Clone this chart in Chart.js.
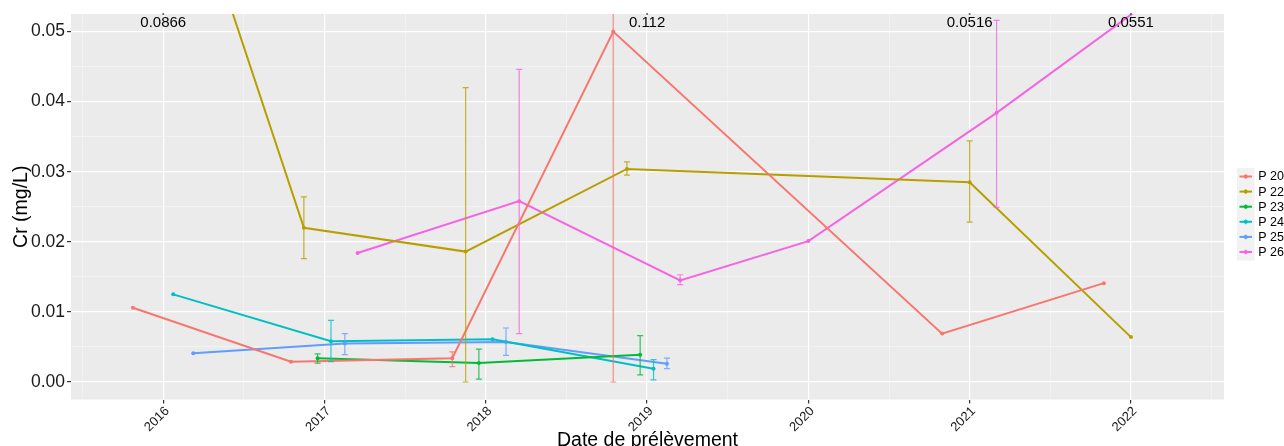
<!DOCTYPE html>
<html>
<head>
<meta charset="utf-8">
<script src="https://cdn.jsdelivr.net/npm/chart.js@4.4.1/dist/chart.umd.min.js"></script>
<style>
  html, body { margin: 0; padding: 0; background: #ffffff; }
  #wrap { width: 1284px; height: 446px; }
</style>
</head>
<body>
<div id="wrap"><canvas id="chart" width="1284" height="446"></canvas></div>
<script>
// Sampling points (decimal year), Cr concentration (mg/L) and error-bar bounds
const seriesNames = ['P 20', 'P 22', 'P 23', 'P 24', 'P 25', 'P 26'];

const p20Dates  = [2015.812, 2016.792, 2017.792, 2018.790, 2020.829, 2021.832];
const p20Values = [0.0106, 0.0029, 0.0034, 0.0500, 0.0069, 0.0141];
const p20Low    = [null, null, 0.0022, 0.0000, null, null];
const p20High   = [null, null, 0.0043, 0.112, null, null];

const p22Dates  = [2015.940, 2016.872, 2017.875, 2018.875, 2021.000, 2022.000];
const p22Values = [0.0866, 0.0220, 0.0186, 0.0304, 0.0285, 0.0064];
const p22Low    = [null, 0.0176, 0.0000, 0.0295, 0.0228, null];
const p22High   = [null, 0.0264, 0.0420, 0.0314, 0.0344, null];

const p23Dates  = [2016.957, 2017.957, 2018.957];
const p23Values = [0.0034, 0.0027, 0.0039];
const p23Low    = [0.0027, 0.0004, 0.0010];
const p23High   = [0.0040, 0.0047, 0.0066];

const p24Dates  = [2016.062, 2017.040, 2018.042, 2019.040];
const p24Values = [0.0125, 0.0058, 0.0061, 0.0019];
const p24Low    = [null, 0.0029, null, 0.0003];
const p24High   = [null, 0.0088, null, 0.0032];

const p25Dates  = [2016.186, 2017.126, 2018.125, 2019.123];
const p25Values = [0.0041, 0.0055, 0.0057, 0.0026];
const p25Low    = [null, 0.0039, 0.0038, 0.0019];
const p25High   = [null, 0.0069, 0.0077, 0.0034];

const p26Dates  = [2017.205, 2018.207, 2019.205, 2020.000, 2021.167, 2022.160];
const p26Values = [0.0184, 0.0258, 0.0145, 0.0201, 0.0384, 0.0551];
const p26Low    = [null, 0.0069, 0.0139, null, 0.0249, null];
const p26High   = [null, 0.0446, 0.0153, null, 0.0516, null];

// Values lying above the visible range, printed at the top of the panel
const offscaleYears  = [2016, 2019, 2021, 2022];
const offscaleValues = [0.0866, 0.112, 0.0516, 0.0551];

// Axis ticks
const xMajorTicks = [2016, 2017, 2018, 2019, 2020, 2021, 2022];
const yMajorTicks = [0.00, 0.01, 0.02, 0.03, 0.04, 0.05];

const palette = ['#F8766D', '#B79F00', '#00BA38', '#00BFC4', '#619CFF', '#F564E3'];

const series = [
  { dates: p20Dates, values: p20Values, low: p20Low, high: p20High },
  { dates: p22Dates, values: p22Values, low: p22Low, high: p22High },
  { dates: p23Dates, values: p23Values, low: p23Low, high: p23High },
  { dates: p24Dates, values: p24Values, low: p24Low, high: p24High },
  { dates: p25Dates, values: p25Values, low: p25Low, high: p25High },
  { dates: p26Dates, values: p26Values, low: p26Low, high: p26High }
];

// Major ticks plus a minor line halfway between them
function withMinors(majors, lo, hi) {
  const step = majors[1] - majors[0];
  const out = [];
  for (let i = -1; i < majors.length; i++) {
    const base = i < 0 ? majors[0] - step : majors[i];
    [base, base + step / 2].forEach(v => {
      if (v > lo && v < hi && !out.some(o => Math.abs(o - v) < step / 1000)) out.push(v);
    });
  }
  return out.sort((a, b) => a - b);
}

const X_MIN = 2015.428, X_MAX = 2022.577;
const Y_MIN = -0.0025, Y_MAX = 0.0525;
const xTicks = withMinors(xMajorTicks, X_MIN, X_MAX);
const yTicks = withMinors(yMajorTicks, Y_MIN, Y_MAX);

const isMajor = (list, v) => list.some(m => Math.abs(m - v) < 1e-9);

function hexAlpha(hex, a) {
  const n = parseInt(hex.slice(1), 16);
  return `rgba(${(n >> 16) & 255},${(n >> 8) & 255},${n & 255},${a})`;
}

const FONT = '"Liberation Sans", Arial, sans-serif';
Chart.defaults.font.family = FONT;

const datasets = series.map((s, k) => ({
  label: seriesNames[k],
  data: s.dates.map((d, i) => ({ x: d, y: s.values[i] })),
  borderColor: palette[k],
  backgroundColor: palette[k],
  pointBackgroundColor: palette[k],
  borderWidth: 2,
  pointRadius: 2,
  pointBorderWidth: 0,
  tension: 0
}));

const gridColor = (list) => (ctx) => {
  if (!ctx.tick) return 'rgba(0,0,0,0)';
  return isMajor(list, ctx.tick.value) ? '#FFFFFF' : '#F6F6F6';
};
const gridWidth = (list) => (ctx) => {
  if (!ctx.tick) return 0;
  return isMajor(list, ctx.tick.value) ? 1.2 : 0.6;
};
const tickColor = (list) => (ctx) => {
  if (!ctx.tick) return 'rgba(0,0,0,0)';
  return isMajor(list, ctx.tick.value) ? '#333333' : 'rgba(0,0,0,0)';
};

// Panel background, error bars, off-scale labels, titles and legend
const decorations = {
  id: 'decorations',
  beforeDraw(chart) {
    const { ctx, chartArea: a } = chart;
    ctx.save();
    ctx.fillStyle = '#FFFFFF';
    ctx.fillRect(0, 0, chart.width, chart.height);
    ctx.fillStyle = '#EBEBEB';
    ctx.fillRect(a.left, a.top, a.right - a.left, a.bottom - a.top);
    ctx.restore();
  },
  afterDatasetsDraw(chart) {
    const { ctx, chartArea: a, scales: { x, y } } = chart;
    ctx.save();
    ctx.beginPath();
    ctx.rect(a.left, a.top, a.right - a.left, a.bottom - a.top);
    ctx.clip();
    const cap = 3;
    series.forEach((s, k) => {
      ctx.strokeStyle = hexAlpha(palette[k], 0.8);
      ctx.lineWidth = 1.2;
      s.dates.forEach((d, i) => {
        if (s.low[i] == null || s.high[i] == null) return;
        const px = x.getPixelForValue(d);
        const p1 = y.getPixelForValue(s.low[i]);
        const p2 = y.getPixelForValue(s.high[i]);
        ctx.beginPath();
        ctx.moveTo(px, p1); ctx.lineTo(px, p2);
        ctx.moveTo(px - cap, p1); ctx.lineTo(px + cap, p1);
        ctx.moveTo(px - cap, p2); ctx.lineTo(px + cap, p2);
        ctx.stroke();
      });
    });
    ctx.restore();

    // off-scale values
    ctx.save();
    ctx.font = `15px ${FONT}`;
    ctx.textAlign = 'center';
    ctx.textBaseline = 'middle';
    offscaleYears.forEach((yr, i) => {
      const px = x.getPixelForValue(yr);
      ctx.fillStyle = '#000000';
      ctx.fillText(String(offscaleValues[i]), px, y.getPixelForValue(0.0513));
      ctx.fillStyle = '#666666';
      ctx.beginPath();
      ctx.arc(px, a.top, 1.1, 0, Math.PI * 2);
      ctx.fill();
    });
    ctx.restore();
  },
  afterDraw(chart) {
    const { ctx, chartArea: a } = chart;
    ctx.save();
    ctx.fillStyle = '#000000';
    // axis titles
    ctx.font = `19.5px ${FONT}`;
    ctx.textAlign = 'center';
    ctx.textBaseline = 'alphabetic';
    ctx.fillText('Date de prélèvement', (a.left + a.right) / 2, 445.5);
    ctx.save();
    ctx.translate(27, (a.top + a.bottom) / 2);
    ctx.rotate(-Math.PI / 2);
    ctx.fillText('Cr (mg/L)', 0, 0);
    ctx.restore();

    // legend
    const lx = 1237, top = 176.5, step = 15.1;
    ctx.fillStyle = '#F2F2F2';
    ctx.fillRect(lx, top - 8.5, 17.5, step * seriesNames.length + 2);
    seriesNames.forEach((name, k) => {
      const cy = top + k * step;
      ctx.strokeStyle = palette[k];
      ctx.lineWidth = 2;
      ctx.beginPath();
      ctx.moveTo(lx + 2.5, cy); ctx.lineTo(lx + 15, cy);
      ctx.stroke();
      ctx.lineWidth = 1;
      ctx.strokeStyle = hexAlpha(palette[k], 0.8);
      ctx.beginPath();
      ctx.moveTo(lx + 8.75, cy - 2.5); ctx.lineTo(lx + 8.75, cy + 2.5);
      ctx.stroke();
      ctx.fillStyle = palette[k];
      ctx.beginPath();
      ctx.arc(lx + 8.75, cy, 2, 0, Math.PI * 2);
      ctx.fill();
      ctx.fillStyle = '#000000';
      ctx.font = `12.5px ${FONT}`;
      ctx.textAlign = 'left';
      ctx.textBaseline = 'middle';
      ctx.fillText(name, 1258.3, cy + 0.5);
    });
    ctx.restore();
  }
};

new Chart(document.getElementById('chart'), {
  type: 'line',
  data: { datasets },
  plugins: [decorations],
  options: {
    responsive: false,
    animation: false,
    devicePixelRatio: 1,
    layout: { padding: { left: 0, top: 14, right: 60, bottom: 0 } },
    plugins: { legend: { display: false }, tooltip: { enabled: false } },
    scales: {
      x: {
        type: 'linear',
        min: X_MIN,
        max: X_MAX,
        afterBuildTicks: (s) => { s.ticks = xTicks.map(v => ({ value: v })); },
        afterFit: (s) => { s.height = 46.5; },
        border: { display: false },
        grid: { color: gridColor(xMajorTicks), lineWidth: gridWidth(xMajorTicks), tickColor: tickColor(xMajorTicks), tickLength: 4, drawTicks: true },
        ticks: {
          autoSkip: false, minRotation: 45, maxRotation: 45, padding: 0, labelOffset: 4,
          color: '#1A1A1A', font: { size: 13 },
          callback: (v) => isMajor(xMajorTicks, v) ? String(Math.round(v)) : ''
        }
      },
      y: {
        type: 'linear',
        min: Y_MIN,
        max: Y_MAX,
        afterBuildTicks: (s) => { s.ticks = yTicks.map(v => ({ value: v })); },
        afterFit: (s) => { s.width = 71; },
        border: { display: false },
        grid: { color: gridColor(yMajorTicks), lineWidth: gridWidth(yMajorTicks), tickColor: tickColor(yMajorTicks), tickLength: 4, drawTicks: true },
        ticks: {
          padding: 2, color: '#1A1A1A', font: { size: 17.5 },
          callback: (v) => isMajor(yMajorTicks, v) ? v.toFixed(2) : ''
        }
      }
    }
  }
});
</script>
</body>
</html>
